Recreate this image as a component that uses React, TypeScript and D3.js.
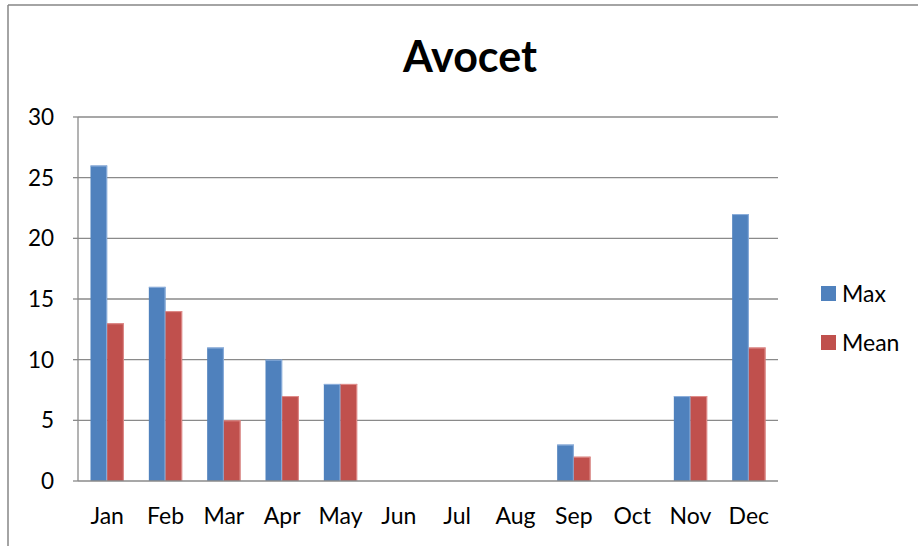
import React from "react";
import * as d3 from "d3";

const months = ["Jan", "Feb", "Mar", "Apr", "May", "Jun", "Jul", "Aug", "Sep", "Oct", "Nov", "Dec"];
const maxValues = [26, 16, 11, 10, 8, 0, 0, 0, 3, 0, 7, 22];
const meanValues = [13, 14, 5, 7, 8, 0, 0, 0, 2, 0, 7, 11];
const yTicks = [0, 5, 10, 15, 20, 25, 30];
const seriesNames = ["Max", "Mean"];
const seriesColors = ["#4F81BD", "#C0504D"];
const seriesEdge = ["#8FB0DC", "#E08F8D"];

const W = 918;
const H = 546;
const left = 78;
const right = 778;
const top = 117;
const bottom = 481;
const FONT = "Lato, 'Open Sans', sans-serif";

export default function App() {
  const x0 = d3.scaleBand<string>().domain(months).range([left, right]).paddingInner(0).paddingOuter(0);
  const bw = x0.bandwidth();
  const gap = bw / 3.5 * 1.5;
  const x1 = d3.scaleBand<string>().domain(seriesNames).range([gap / 2, bw - gap / 2]).padding(0);
  const y = d3.scaleLinear().domain([0, 30]).range([bottom, top]);
  const series = [maxValues, meanValues];

  return (
    <svg width={W} height={H} style={{ position: "absolute", left: 0, top: 0, background: "#fff" }}>
      <rect x={0} y={0} width={W} height={H} fill="#fff" />
      <line x1={8} y1={5} x2={W} y2={5} stroke="#868686" strokeWidth={1.5} />
      <line x1={8} y1={5} x2={8} y2={H} stroke="#868686" strokeWidth={1.5} />
      <text x={470} y={72} textAnchor="middle" fontFamily={FONT} fontWeight="bold" fontSize={43} fill="#000">
        Avocet
      </text>
      {yTicks.map((t) => (
        <g key={t}>
          {t > 0 && (
            <line x1={left} x2={right} y1={y(t)} y2={y(t)} stroke="#8a8a8a" strokeWidth={1.3} />
          )}
          <line x1={left - 5} x2={left} y1={y(t)} y2={y(t)} stroke="#8a8a8a" strokeWidth={1.3} />
          <text x={54} y={y(t)} dy="0.35em" textAnchor="end" fontFamily={FONT} fontSize={22.5} fill="#000">
            {t}
          </text>
        </g>
      ))}
      {series.map((vals, si) =>
        vals.map((v, i) => {
          if (v <= 0) return null;
          const bx = (x0(months[i]) as number) + (x1(seriesNames[si]) as number);
          const w = x1.bandwidth();
          return (
            <g key={`${si}-${i}`}>
              <rect x={bx} y={y(v)} width={w} height={bottom - y(v)} fill={seriesColors[si]} />
              <line x1={bx + w - 0.5} x2={bx + w - 0.5} y1={y(v)} y2={bottom} stroke={seriesEdge[si]} strokeWidth={1} />
              <line x1={bx} x2={bx + w} y1={y(v) + 0.5} y2={y(v) + 0.5} stroke={seriesEdge[si]} strokeWidth={1} />
            </g>
          );
        })
      )}
      <line x1={left} x2={left} y1={top} y2={bottom} stroke="#8a8a8a" strokeWidth={1.3} />
      <line x1={left} x2={right} y1={bottom} y2={bottom} stroke="#8a8a8a" strokeWidth={1.3} />
      {months.map((m) => (
        <text key={m} x={(x0(m) as number) + bw / 2} y={516} dy="0.35em" textAnchor="middle" fontFamily={FONT} fontSize={23} fill="#000">
          {m}
        </text>
      ))}
      {seriesNames.map((s, i) => (
        <g key={s}>
          <rect x={821} y={286 + i * 49} width={15} height={15} fill={seriesColors[i]} />
          <text x={842} y={294 + i * 49} dy="0.35em" fontFamily={FONT} fontSize={23} fill="#000">
            {s}
          </text>
        </g>
      ))}
    </svg>
  );
}
